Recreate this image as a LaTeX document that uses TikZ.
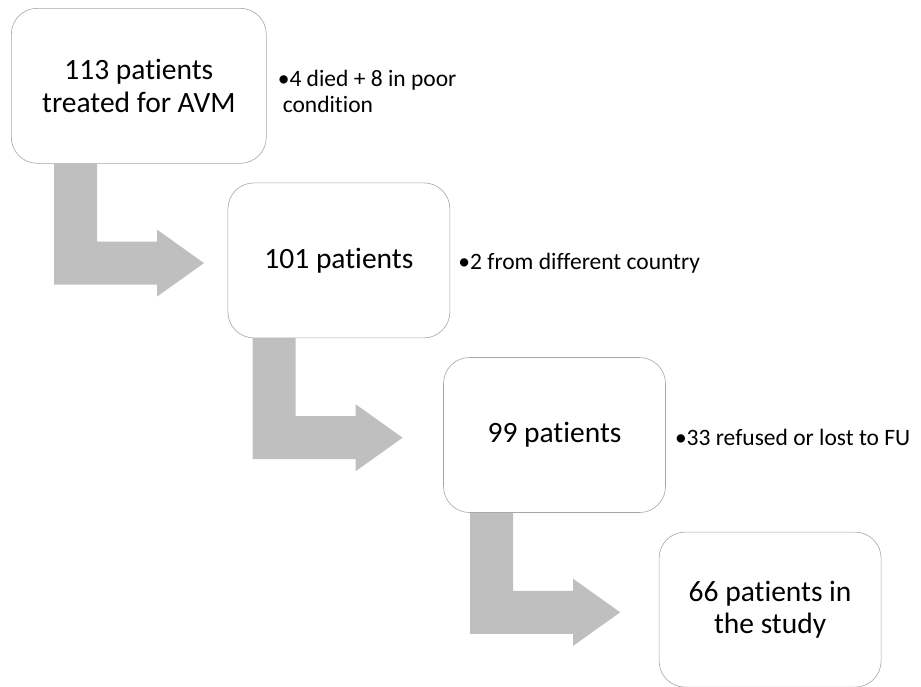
\documentclass[tikz,border=0pt]{standalone}
\usepackage{fontspec}
\setmainfont[Ligatures=NoCommon]{Carlito}
\usepackage{tikz}
\usetikzlibrary{positioning}
\definecolor{boxline}{RGB}{166,166,166}
\definecolor{arrowfill}{RGB}{191,191,191}
\tikzset{
      stagebox/.style = {draw=boxline, fill=white, line width=0.6pt, rounded corners=26pt,
                         minimum width=222pt, minimum height=155pt, inner sep=0pt,
                         align=center, font=\fontsize{29.5}{32.5}\selectfont},
      notetext/.style = {inner sep=0pt, align=left, yshift=-2.5pt,
                         font=\fontsize{23.5}{26}\selectfont},
      bendarrow/.style = {fill=arrowfill},
    }

\begin{document}
\begin{tikzpicture}[x=1pt, y=-1pt]
        \useasboundingbox (0,0) rectangle (921,686);

        \node [stagebox, minimum width=255pt, anchor=north west] (b1) at (11,8) {113 patients\\treated for AVM};
        \node [stagebox, below right=19pt and -39pt of b1] (b2) {101 patients};
        \node [stagebox, below right=19pt and -7pt of b2] (b3) {99 patients};
        \node [stagebox, below right=19pt and -7pt of b3] (b4) {66 patients in\\the study};

        \node [notetext, right=11pt of b1, yshift=-3pt] (n1) {•4 died + 8 in poor\\\hspace*{5pt}condition};
        \node [notetext, right=8pt of b2] (n2) {•2 from different country};
        \node [notetext, right=9pt of b3] (n3) {•33 refused or lost to FU};

        % bent arrows between the stages
        \fill [bendarrow] ([xshift=43pt]b1.south west) -- ++(43,0) -- ++(0,78) -- ++(60,0) -- ++(0,-12)
              -- ++(47,33.5) -- ++(-47,33.5) -- ++(0,-12) -- ++(-103,0) -- cycle;
        \fill [bendarrow] ([xshift=25pt]b2.south west) -- ++(43,0) -- ++(0,78) -- ++(60,0) -- ++(0,-12)
              -- ++(47,33.5) -- ++(-47,33.5) -- ++(0,-12) -- ++(-103,0) -- cycle;
        \fill [bendarrow] ([xshift=27pt]b3.south west) -- ++(43,0) -- ++(0,78) -- ++(60,0) -- ++(0,-12)
              -- ++(47,33.5) -- ++(-47,33.5) -- ++(0,-12) -- ++(-103,0) -- cycle;

\end{tikzpicture}
\end{document}
